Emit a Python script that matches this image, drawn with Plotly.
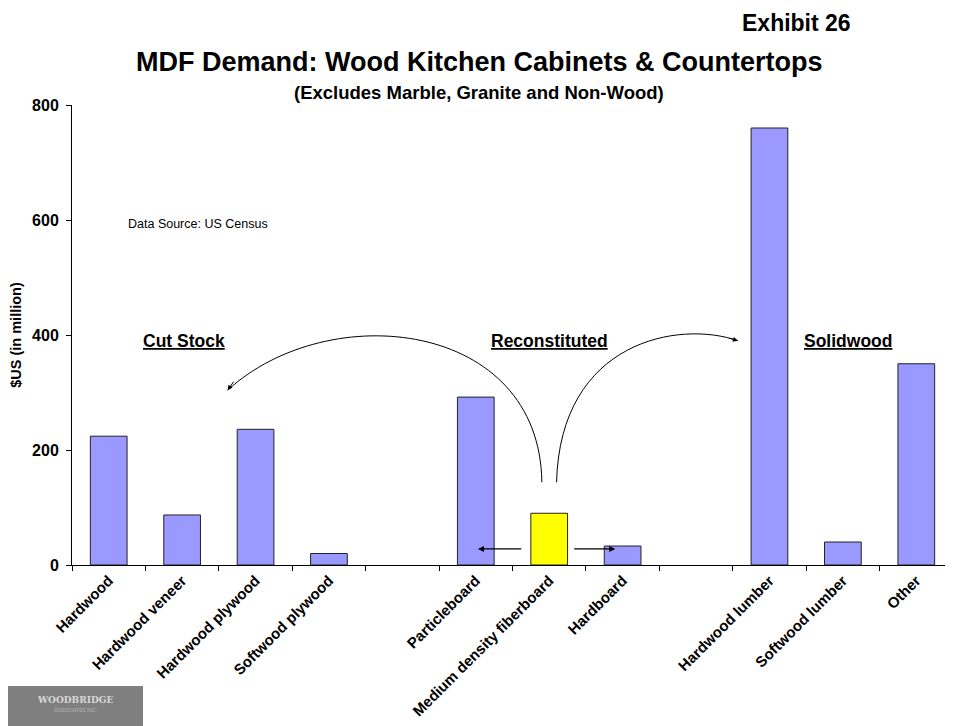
import plotly.graph_objects as go

# ---- data ----
categories = ["Hardwood", "Hardwood veneer", "Hardwood plywood", "Softwood plywood", " ",
              "Particleboard", "Medium density fiberboard", "Hardboard", "  ",
              "Hardwood lumber", "Softwood lumber", "Other"]
values = [224, 87, 236, 20, None, 292, 90, 33, None, 760, 40, 350]
highlight = "Medium density fiberboard"
y_ticks = [0, 200, 400, 600, 800]

FONT = "Arial, Liberation Sans, sans-serif"
N = len(categories)
YMAX = 800

# page geometry (browser body has an 8px margin)
OFF = 8
W, H = 953 - OFF, 726 - OFF
PL, PR, PT, PB = 72, 953, 105, 565   # plot area in page pixels


def ppx(x):  # page pixel x -> paper x
    return (x - PL) / (PR - PL)


def ppy(y):  # page pixel y -> paper y
    return (PB - y) / (PB - PT)


def px(i):   # category index -> paper x
    return (i + 0.5) / N


def py(v):   # value -> paper y
    return v / YMAX


colors = ["#FFFF00" if c == highlight else "#9999FF" for c in categories]

fig = go.Figure()
fig.add_trace(go.Bar(
    x=categories, y=values,
    marker=dict(color=colors, line=dict(color="#222222", width=1)),
    width=0.5, hoverinfo="x+y"
))

# curved arrows (category index / value control points)
left_arc = [(5.90, 144), (5.87, 426), (3.0, 465), (1.62, 304)]
right_arc = [(6.10, 144), (6.15, 391), (7.78, 426), (8.57, 390)]


def path(pts):
    (a, b), (c, d), (e, f), (g, h) = [(px(x), py(y)) for x, y in pts]
    return f"M {a},{b} C {c},{d} {e},{f} {g},{h}"


shapes = []
for arc in (left_arc, right_arc):
    shapes.append(dict(type="path", xref="paper", yref="paper", path=path(arc),
                       line=dict(color="black", width=1)))

annotations = []
# arrowheads on arcs
annotations.append(dict(x=1.62, y=304, xref="x", yref="y", ax=7, ay=-10, text="",
                        showarrow=True, arrowhead=2, arrowsize=1, arrowwidth=1, arrowcolor="black"))
annotations.append(dict(x=8.57, y=390, xref="x", yref="y", ax=-10, ay=-3, text="",
                        showarrow=True, arrowhead=2, arrowsize=1, arrowwidth=1, arrowcolor="black"))
# small horizontal arrows around MDF
annotations.append(dict(x=5.03, y=28, xref="x", yref="y", axref="x", ayref="y", ax=5.64, ay=28,
                        text="", showarrow=True, arrowhead=2, arrowsize=1, arrowwidth=1.2, arrowcolor="black"))
annotations.append(dict(x=6.90, y=28, xref="x", yref="y", axref="x", ayref="y", ax=6.32, ay=28,
                        text="", showarrow=True, arrowhead=2, arrowsize=1, arrowwidth=1.2, arrowcolor="black"))

# group labels
for txt, xi in (("Cut Stock", 1.03), ("Reconstituted", 6.0), ("Solidwood", 10.07)):
    annotations.append(dict(x=xi, y=390, xref="x", yref="y", text=f"<b><u>{txt}</u></b>",
                            showarrow=False, xanchor="center",
                            font=dict(size=17.5, family=FONT, color="black")))

annotations.append(dict(x=ppx(126), y=ppy(224), xref="paper", yref="paper", text="Data Source: US Census",
                        showarrow=False, xanchor="left", yanchor="middle",
                        font=dict(size=12.5, family=FONT, color="black")))

# titles
annotations.append(dict(x=ppx(796), y=ppy(OFF), xref="paper", yref="paper", text="<b>Exhibit 26</b>",
                        showarrow=False, font=dict(size=23, family=FONT, color="black"),
                        xanchor="center", yanchor="top"))
annotations.append(dict(x=ppx(479), y=ppy(62), xref="paper", yref="paper",
                        text="<b>MDF Demand: Wood Kitchen Cabinets &amp; Countertops</b>",
                        showarrow=False, font=dict(size=27, family=FONT, color="black"),
                        xanchor="center", yanchor="middle"))
annotations.append(dict(x=ppx(479), y=ppy(92), xref="paper", yref="paper",
                        text="<b>(Excludes Marble, Granite and Non-Wood)</b>",
                        showarrow=False, font=dict(size=18.5, family=FONT, color="black"),
                        xanchor="center", yanchor="middle"))

# logo block
shapes.append(dict(type="rect", xref="paper", yref="paper",
                   x0=ppx(OFF), x1=ppx(143), y0=ppy(726), y1=ppy(686),
                   fillcolor="#7f7f7f", line=dict(width=0), layer="above"))
annotations.append(dict(x=ppx(75), y=ppy(700), xref="paper", yref="paper",
                        text="<b>WOODBRIDGE</b>", showarrow=False, xanchor="center", yanchor="middle",
                        font=dict(size=9, family="DejaVu Serif, serif", color="#d8d8d8")))
annotations.append(dict(x=ppx(75), y=ppy(710), xref="paper", yref="paper",
                        text="ASSOCIATES INC.", showarrow=False, xanchor="center", yanchor="middle",
                        font=dict(size=5, family=FONT, color="#b8b8b8")))

fig.update_layout(
    width=W, height=H,
    margin=dict(l=PL - OFF, r=0, t=PT - OFF, b=H - (PB - OFF), pad=0),
    paper_bgcolor="white", plot_bgcolor="white",
    showlegend=False,
    shapes=shapes, annotations=annotations,
    font=dict(family=FONT, color="black"),
    xaxis=dict(
        type="category", categoryorder="array", categoryarray=categories,
        range=[-0.5, N - 0.5],
        showline=True, linecolor="black", linewidth=1,
        ticks="outside", tickson="boundaries", ticklen=5, tickcolor="black",
        tickangle=-45, tickfont=dict(size=15, family=FONT, color="black", weight="bold"),
        showgrid=False, zeroline=False,
    ),
    yaxis=dict(
        range=[0, YMAX], tickvals=y_ticks,
        showline=True, linecolor="black", linewidth=1,
        ticks="outside", ticklen=5, tickcolor="black", ticklabelstandoff=4,
        tickfont=dict(size=16, family=FONT, color="black", weight="bold"),
        showgrid=False, zeroline=False,
        title=dict(text="<b>$US (in million)</b>", font=dict(size=14.5, family=FONT, color="black"), standoff=10),
    ),
    bargap=0.5,
)

fig.write_html("out.html")
